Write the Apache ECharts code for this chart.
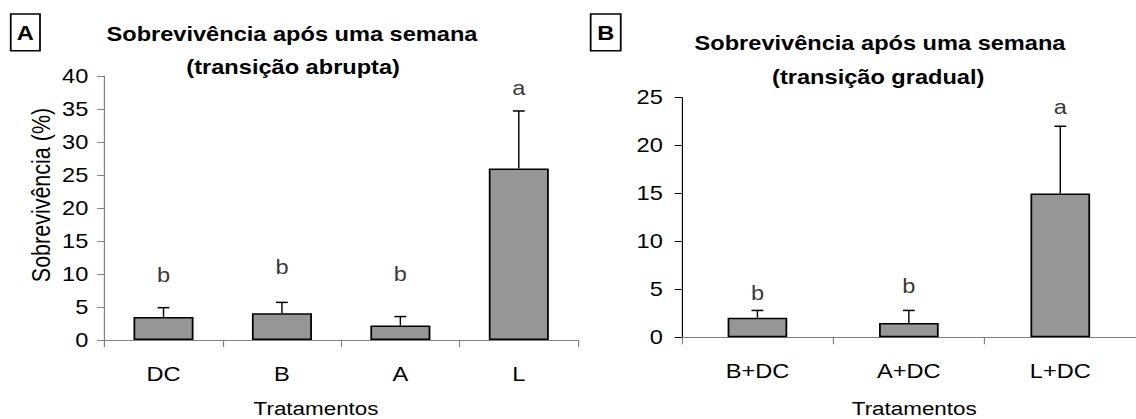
<!DOCTYPE html>
<html><head><meta charset="utf-8">
<script src="https://cdn.jsdelivr.net/npm/echarts@6/dist/echarts.min.js"></script>
<style>
html,body{margin:0;padding:0;background:#fff;overflow:hidden;width:1136px;height:419px}
#c{width:963px;height:419px;transform-origin:0 0;transform:scaleX(1.17965)}
</style>
</head><body><div id="c"></div>
<script>
// Panel A – abrupt transition
const catsA = ['DC', 'B', 'A', 'L'];
const meanA = [3.5, 4.05, 2.2, 26];
const errTopA = [4.9, 5.7, 3.55, 34.7];
const lettersA = ['b', 'b', 'b', 'a'];
const letterPosA = [9.9, 11.1, 10, 38.1];
const yTicksA = [0, 5, 10, 15, 20, 25, 30, 35, 40];
// Panel B – gradual transition
const catsB = ['B+DC', 'A+DC', 'L+DC'];
const meanB = [2.05, 1.5, 15];
const errTopB = [2.8, 2.8, 22];
const lettersB = ['b', 'b', 'a'];
const letterPosB = [4.6, 5.3, 24];
const yTicksB = [0, 5, 10, 15, 20, 25];

const FONT = "'Liberation Sans', Arial, sans-serif";
const chart = echarts.init(document.getElementById('c'), null, {renderer: 'svg'});

function xAx(cats, gi) {
  return {
    type: 'category', data: cats, gridIndex: gi,
    axisLine: {show: true, lineStyle: {color: '#808080', width: 1}},
    axisTick: {show: true, length: 7, lineStyle: {color: '#808080'}},
    axisLabel: {fontSize: 20, color: '#000', margin: 24, fontFamily: FONT},
    splitLine: {show: false}
  };
}
function yAx(ticks, gi, lineColor, margin) {
  return {
    type: 'value', gridIndex: gi, min: ticks[0], max: ticks[ticks.length - 1],
    interval: ticks[1] - ticks[0],
    axisLine: {show: true, lineStyle: {color: lineColor, width: 1}},
    axisTick: {show: true, length: 6, lineStyle: {color: lineColor}},
    axisLabel: {fontSize: 20, color: '#000', margin: margin, fontFamily: FONT},
    splitLine: {show: false}
  };
}
function errSeries(means, tops, gi) {
  return {
    type: 'custom', xAxisIndex: gi, yAxisIndex: gi, z: 5, silent: true,
    data: means.map((m, i) => [i, m, tops[i]]),
    encode: {x: 0, y: [1, 2]},
    renderItem: function (params, api) {
      const p0 = api.coord([api.value(0), api.value(1)]);
      const p1 = api.coord([api.value(0), api.value(2)]);
      const cap = 5;
      return {type: 'group', children: [
        {type: 'line', shape: {x1: p0[0], y1: p0[1], x2: p1[0], y2: p1[1]}, style: {stroke: '#000', lineWidth: 1.2}},
        {type: 'line', shape: {x1: p1[0] - cap, y1: p1[1], x2: p1[0] + cap, y2: p1[1]}, style: {stroke: '#000', lineWidth: 1.5}}
      ]};
    }
  };
}
function letterSeries(pos, letters, gi) {
  return {
    type: 'scatter', xAxisIndex: gi, yAxisIndex: gi, silent: true, symbolSize: 1,
    itemStyle: {color: 'rgba(0,0,0,0)'},
    data: pos.map((p, i) => [i, p]),
    label: {show: true, position: 'inside', formatter: p => letters[p.dataIndex],
            fontSize: 20, color: '#000', fontFamily: FONT}
  };
}
function barSeries(means, gi, w) {
  return {
    type: 'bar', xAxisIndex: gi, yAxisIndex: gi, data: means, barWidth: w, silent: true,
    itemStyle: {color: '#969696', borderColor: '#000', borderWidth: 1.5}
  };
}
function txt(x, y, text, size, bold, extra) {
  return Object.assign({
    type: 'text', x: x, y: y, silent: true,
    style: {text: text, fontSize: size, fontWeight: bold ? 'bold' : 'normal', fontFamily: FONT,
            fill: '#000', align: 'center', verticalAlign: 'middle', textAlign: 'center', textVerticalAlign: 'middle'}
  }, extra || {});
}

chart.setOption({
  animation: false,
  backgroundColor: '#fff',
  grid: [
    {left: 88.4, right: 473, top: 76, bottom: 79},
    {left: 577.9, right: -8.4, top: 97.5, bottom: 81.7}
  ],
  xAxis: [xAx(catsA, 0), xAx(catsB, 1)],
  yAxis: [yAx(yTicksA, 0, '#808080', 13.5), yAx(yTicksB, 1, '#000', 16)],
  series: [
    barSeries(meanA, 0, '50.7%'), errSeries(meanA, errTopA, 0), letterSeries(letterPosA, lettersA, 0),
    barSeries(meanB, 1, '39.4%'), errSeries(meanB, errTopB, 1), letterSeries(letterPosB, lettersB, 1)
  ],
  graphic: [
    {type: 'rect', shape: {x: 9.1, y: 14, width: 24.8, height: 36.7}, style: {fill: '#fff', stroke: '#000', lineWidth: 1.5}},
    txt(21.5, 33, 'A', 20, true),
    {type: 'rect', shape: {x: 500.7, y: 14, width: 25.5, height: 36.7}, style: {fill: '#fff', stroke: '#000', lineWidth: 1.5}},
    txt(513.5, 33, 'B', 20, true),
    txt(247.5, 34.5, 'Sobrevivência após uma semana', 20, true),
    txt(248.5, 67.5, '(transição abrupta)', 20, true),
    txt(746, 43.3, 'Sobrevivência após uma semana', 20, true),
    txt(744.5, 76.7, '(transição gradual)', 20, true),
    txt(35.3, 195, 'Sobrevivência (%)', 21.5, false, {rotation: Math.PI / 2}),
    txt(267.9, 408, 'Tratamentos', 19, false),
    txt(775, 408.5, 'Tratamentos', 19, false)
  ]
});
</script>
</body></html>
